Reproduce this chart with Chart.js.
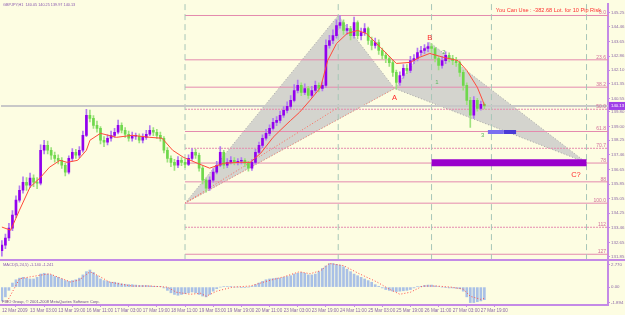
<!DOCTYPE html>
<html>
<head>
<meta charset="utf-8">
<script src="https://cdn.jsdelivr.net/npm/chart.js@4.4.0/dist/chart.umd.min.js"></script>
<style>
  html, body { margin: 0; padding: 0; background: #fdfde2; }
  canvas { display: block; }
</style>
</head>
<body>
<canvas id="chart" width="625" height="315"></canvas>
<script>
// GBPJPY H1 - one candle drawn for every 2 hourly bars (bar index = 2 * candle)
var opens = [132.20,132.50,132.89,133.43,134.15,134.97,135.51,135.95,135.79,136.17,
  135.95,135.90,137.70,137.97,137.70,137.43,137.26,137.15,136.88,136.50,
  137.26,137.59,137.43,137.70,138.52,139.62,139.45,139.07,138.90,138.25,
  138.14,138.36,138.52,138.69,139.07,138.80,138.58,138.36,138.47,138.47,
  138.25,138.41,138.58,138.80,138.69,138.52,138.36,137.70,137.26,137.04,
  136.88,137.15,137.04,136.93,137.26,137.59,137.43,136.72,136.06,135.62,
  136.06,136.50,136.88,137.59,136.88,137.04,137.15,137.04,137.10,137.15,
  136.99,136.72,137.04,137.59,137.97,138.36,138.63,138.90,139.23,139.34,
  139.62,139.89,140.11,140.44,140.98,141.26,140.87,141.09,140.71,140.98,
  141.26,141.09,141.26,143.45,143.72,143.99,144.54,144.70,144.27,144.37,
  143.99,144.70,143.99,144.16,144.37,143.72,143.45,143.61,143.17,142.90,
  142.73,142.51,141.97,141.42,141.80,142.19,142.08,142.62,142.73,143.06,
  143.17,143.28,143.39,143.28,142.73,142.35,142.62,142.90,142.73,142.62,
  142.51,141.97,141.26,140.44,139.62,140.44,140.00,140.22];
var highs = [132.75,133.10,133.70,134.40,135.20,135.75,136.25,136.20,136.45,136.35,
  136.20,138.00,138.25,138.20,137.85,137.60,137.45,137.30,137.00,137.40,
  137.80,137.75,137.90,138.75,139.95,139.90,139.60,139.30,139.00,138.45,
  138.55,138.75,138.90,139.35,139.20,138.95,138.75,138.70,138.65,138.60,
  138.60,138.80,139.05,138.95,138.85,138.70,138.45,137.85,137.40,137.20,
  137.35,137.30,137.20,137.45,137.80,137.75,137.55,136.85,136.15,136.25,
  136.70,137.10,137.90,137.70,137.25,137.35,137.30,137.25,137.30,137.25,
  137.10,137.20,137.75,138.15,138.55,138.85,139.10,139.45,139.55,139.85,
  140.10,140.35,140.70,141.30,141.55,141.40,141.35,141.20,141.20,141.50,
  141.40,141.45,143.75,144.00,144.30,144.85,145.09,144.85,144.60,144.50,
  145.00,144.80,144.40,144.65,144.45,143.90,143.85,143.75,143.30,143.05,
  142.85,142.65,142.10,142.00,142.40,142.40,142.85,142.95,143.30,143.40,
  143.50,143.61,143.55,143.35,142.85,142.85,143.10,143.05,142.90,142.80,
  142.60,142.10,141.40,140.60,140.65,140.55,140.40,140.30];
var lows = [131.90,132.30,132.75,133.30,134.00,134.85,135.35,135.50,135.65,135.70,
  135.60,135.80,137.50,137.50,137.20,137.05,136.95,136.70,136.30,136.40,
  137.10,137.25,137.30,137.60,138.45,139.25,138.90,138.70,138.05,137.90,
  138.00,138.20,138.40,138.60,138.65,138.40,138.20,138.20,138.30,138.10,
  138.10,138.30,138.50,138.50,138.35,138.20,137.55,137.05,136.80,136.60,
  136.75,136.85,136.75,136.85,137.15,137.25,136.55,135.85,135.40,135.50,
  135.95,136.40,136.80,136.70,136.75,136.95,136.90,136.90,136.95,136.80,
  136.55,136.60,136.95,137.50,137.85,138.25,138.50,138.80,139.05,139.20,
  139.50,139.75,140.00,140.35,140.85,140.70,140.75,140.55,140.60,140.85,
  140.90,140.95,141.15,143.30,143.55,143.85,144.40,144.05,144.05,143.75,
  143.85,143.80,143.75,144.00,143.50,143.20,143.30,142.95,142.70,142.50,
  142.30,141.75,141.05,141.25,141.65,141.90,141.95,142.45,142.60,142.90,
  143.00,143.10,143.05,142.55,142.10,142.20,142.45,142.55,142.40,142.30,
  141.75,141.00,140.20,138.96,139.45,139.85,139.90,139.97];
var closes = [132.50,132.89,133.43,134.15,134.97,135.51,135.95,135.79,136.17,135.95,
  135.90,137.70,137.97,137.70,137.43,137.26,137.15,136.88,136.50,137.26,
  137.59,137.43,137.70,138.52,139.62,139.45,139.07,138.90,138.25,138.14,
  138.36,138.52,138.69,139.07,138.80,138.58,138.36,138.47,138.47,138.25,
  138.41,138.58,138.80,138.69,138.52,138.36,137.70,137.26,137.04,136.88,
  137.15,137.04,136.93,137.26,137.59,137.43,136.72,136.06,135.62,136.06,
  136.50,136.88,137.59,136.88,137.04,137.15,137.04,137.10,137.15,136.99,
  136.72,137.04,137.59,137.97,138.36,138.63,138.90,139.23,139.34,139.62,
  139.89,140.11,140.44,140.98,141.26,140.87,141.09,140.71,140.98,141.26,
  141.09,141.26,143.45,143.72,143.99,144.54,144.70,144.27,144.37,143.99,
  144.70,143.99,144.16,144.37,143.72,143.45,143.61,143.17,142.90,142.73,
  142.51,141.97,141.42,141.80,142.19,142.08,142.62,142.73,143.06,143.17,
  143.28,143.39,143.28,142.73,142.35,142.62,142.90,142.73,142.62,142.51,
  141.97,141.26,140.44,139.62,140.44,140.00,140.22,140.13];

// moving average (red), read at a few bars
var maBars = [0,5,10,16,22,27,33,37,43,48,50,56,65,74,84,91,97,103,111,118,126,135,141,147,154,158,
  164,169,175,181,185,190,196,202,207,215,224,232,237,243,251,259,264,270,273,274];
var maValues = [133.49,133.32,134.42,135.68,136.22,136.77,137.15,137.04,137.15,137.70,138.25,138.63,
  138.41,138.52,138.41,138.36,137.70,137.32,136.99,136.72,136.99,137.04,137.04,137.54,138.41,138.79,
  139.34,139.78,140.44,141.15,142.62,143.55,144.10,144.27,144.10,143.34,142.46,142.52,142.79,143.01,
  142.79,142.62,142.08,141.15,140.44,140.16];

// MACD histogram, same candles as above
var macdHist = [-1.7,-1.2,-0.4,0.5,0.9,1.1,1.2,1.1,1.0,1.0,
  1.2,1.6,1.7,1.6,1.5,1.3,1.2,1.0,0.8,0.7,
  0.8,0.9,1.1,1.5,1.9,2.1,1.8,1.4,1.0,0.8,
  0.7,0.6,0.6,0.5,0.4,0.35,0.3,0.3,0.25,0.2,
  0.2,0.2,0.15,0.1,0.1,0.05,-0.1,-0.4,-0.7,-0.9,
  -1.0,-0.9,-0.8,-0.7,-0.6,-0.7,-0.9,-1.1,-1.2,-0.9,
  -0.5,-0.2,0.0,0.05,0.05,0.05,0.0,0.0,-0.05,-0.05,
  0.0,0.1,0.3,0.5,0.7,0.9,1.0,1.05,1.1,1.1,
  1.2,1.3,1.4,1.6,1.7,1.8,1.7,1.5,1.5,1.6,
  1.9,2.3,2.6,2.9,2.9,2.8,2.7,2.5,2.2,1.9,
  1.6,1.4,1.2,1.0,0.8,0.6,0.3,0.1,-0.1,-0.3,
  -0.4,-0.5,-0.55,-0.5,-0.45,-0.4,-0.3,-0.1,0.05,0.1,
  0.2,0.25,0.25,0.15,0.05,0.0,-0.05,-0.1,-0.1,-0.15,
  -0.2,-0.5,-1.2,-1.9,-1.9,-1.8,-1.7,-1.55];
var signalBars = [3,10,16,27,33,39,44,50,56,61,67,74,84,94,99,107,113,116,122,131,141,151,160,169,175,
  181,186,194,203,213,220,226,232,239,247,255,262,266,272,274];
var signalValues = [-1.76,1.01,1.26,1.64,1.13,0.63,0.88,1.89,1.26,0.63,0.38,0.13,0.13,0,-0.63,-0.88,
  -0.76,-1.13,-0.50,0,0.13,0.76,1.26,1.89,1.64,2.02,2.90,2.64,1.64,0.63,-0.25,-0.88,-0.63,0.13,0.13,
  0,-0.25,-1.13,-1.51,-1.39];

var tickBars = [0,16,32,48,64,80,96,112,128,144,160,176,192,208,224,240,256,272];
var timeLabels = ['12 Mar 2009','13 Mar 03:00','13 Mar 19:00','16 Mar 11:00','17 Mar 03:00','17 Mar 19:00',
  '18 Mar 11:00','19 Mar 03:00','19 Mar 19:00','20 Mar 11:00','23 Mar 03:00','23 Mar 19:00',
  '24 Mar 11:00','25 Mar 03:00','25 Mar 19:00','26 Mar 11:00','27 Mar 03:00','27 Mar 19:00'];
var priceTicks = [145.25,144.46,143.65,142.86,142.10,141.35,140.55,139.80,139.00,138.25,137.46,
  136.65,135.85,135.05,134.25,133.46,132.65,131.85];
var macdTicks = [2.770, 0, -1.894];
var macdTickLabels = ['2.770', '0.00', '-1.894'];

// fibonacci levels of the pattern
var fibNames = ['0.0','23.6','38.2','50.0','61.8','70.7','78','88','100.0','112','127'];
var fibPrices = [145.09,142.66,141.16,139.95,138.73,137.81,137.00,135.97,134.80,133.48,132.00];
var fibDotted = ['50.0','70.7','112'];
var fibStartBar = 104;
var zoneBars = [104, 191, 244, 278, 332];

// harmonic pattern points
var legOneBars = [104, 191, 223, 104];
var legOnePrices = [134.80, 145.09, 141.09, 134.80];
var legTwoBars = [223, 243, 332, 223];
var legTwoPrices = [141.09, 143.61, 137.02, 141.09];
var xbLineBars = [104, 191];
var xbLinePrices = [134.80, 140.05];
var targetZoneBars = [244, 332];
var targetZonePrice = 137.02;
var stopZoneBars = [276, 285, 292];
var stopZonePrice = 138.70;

var pointNames = ['A', 'B', 'C?', '1', '2', '3'];
var pointBars = [223, 243, 326, 247, 251, 273];
var pointPrices = [140.55, 143.88, 136.33, 141.42, 143.06, 138.52];

var lastPrice = 140.13;
var header = 'GBPJPY,H1  140.05 140.25 139.97 140.13';
var riskText = 'You Can Use : -382.68 Lot. for 10 Pip Risk';
var macdTitle = 'MACD(5,24,5) -1.140 -1.241';
var copyright = 'FIBO Group, \u00a9 2001-2008 MetaQuotes Software Corp.';

var FRAME = '#c48ae6';
var TICKTEXT = '#8c6aa8';
var FONT = "'Liberation Sans', Arial, sans-serif";
var X_MIN = -0.5, X_MAX = 344.2;

function candleX(i) { return i * 2; }

var upColor = '#9200ee', downColor = '#6fd84c';
var bodyColors = closes.map(function (c, i) { return c >= opens[i] ? upColor : downColor; });
var wickColors = closes.map(function (c, i) { return c >= opens[i] ? '#b27af0' : '#9ee27e'; });

var datasets = [];

// pattern triangles
datasets.push({
  type: 'line', order: 20,
  data: legOneBars.map(function (b, i) { return { x: b, y: legOnePrices[i] }; }),
  borderColor: 'rgba(160,160,160,0.9)', borderWidth: 1, borderDash: [1, 2],
  backgroundColor: 'rgba(195,195,198,0.72)', fill: 'shape'
});
datasets.push({
  type: 'line', order: 20,
  data: legTwoBars.map(function (b, i) { return { x: b, y: legTwoPrices[i] }; }),
  borderColor: 'rgba(160,160,160,0.9)', borderWidth: 1, borderDash: [1, 2],
  backgroundColor: 'rgba(195,195,198,0.72)', fill: 'shape'
});
datasets.push({
  type: 'line', order: 19,
  data: xbLineBars.map(function (b, i) { return { x: b, y: xbLinePrices[i] }; }),
  borderColor: '#ff6a5a', borderWidth: 1, borderDash: [1, 2]
});
datasets.push({
  type: 'line', order: 19,
  data: [{ x: legOneBars[0], y: legOnePrices[0] }, { x: legOneBars[2], y: legOnePrices[2] }],
  borderColor: '#ff8a7a', borderWidth: 1, borderDash: [1, 2]
});

// fibonacci levels
fibPrices.forEach(function (p, i) {
  datasets.push({
    type: 'line', order: 15,
    data: [{ x: fibStartBar, y: p }, { x: X_MAX, y: p }],
    borderColor: '#e48aae', borderWidth: 1,
    borderDash: fibDotted.indexOf(fibNames[i]) >= 0 ? [2, 1] : []
  });
});

// time zone lines
zoneBars.forEach(function (b) {
  datasets.push({
    type: 'line', order: 14,
    data: [{ x: b, y: 131.68 }, { x: b, y: 145.74 }],
    borderColor: '#a7c6b8', borderWidth: 1, borderDash: [6, 4]
  });
});

// bid line
datasets.push({
  type: 'line', order: 13,
  data: [{ x: X_MIN, y: lastPrice }, { x: X_MAX, y: lastPrice }],
  borderColor: '#c8c8c8', borderWidth: 2
});

// target and stop zones
datasets.push({
  type: 'line', order: 12,
  data: targetZoneBars.map(function (b) { return { x: b, y: targetZonePrice }; }),
  borderColor: '#9a00cc', borderWidth: 7, borderCapStyle: 'butt'
});
datasets.push({
  type: 'line', order: 12,
  data: [{ x: stopZoneBars[0], y: stopZonePrice }, { x: stopZoneBars[1], y: stopZonePrice }],
  borderColor: '#7a6ef0', borderWidth: 4, borderCapStyle: 'butt'
});
datasets.push({
  type: 'line', order: 12,
  data: [{ x: stopZoneBars[1], y: stopZonePrice }, { x: stopZoneBars[2], y: stopZonePrice }],
  borderColor: '#4a3ad6', borderWidth: 4, borderCapStyle: 'butt'
});

// candles
datasets.push({
  type: 'bar', order: 6, grouped: false, barThickness: 1,
  data: closes.map(function (c, i) { return { x: candleX(i), y: [lows[i], highs[i]] }; }),
  backgroundColor: wickColors
});
datasets.push({
  type: 'bar', order: 5, grouped: false, barThickness: 2, minBarLength: 1,
  data: closes.map(function (c, i) { return { x: candleX(i), y: [opens[i], c] }; }),
  backgroundColor: bodyColors
});

// moving average
datasets.push({
  type: 'line', order: 4,
  data: maBars.map(function (b, i) { return { x: b, y: maValues[i] }; }),
  borderColor: '#ff4a3a', borderWidth: 1
});

// MACD
datasets.push({
  type: 'bar', order: 6, grouped: false, barThickness: 2, yAxisID: 'y2',
  data: macdHist.map(function (v, i) { return { x: candleX(i), y: v }; }),
  backgroundColor: '#a9c0e6'
});
datasets.push({
  type: 'line', order: 4, yAxisID: 'y2',
  data: signalBars.map(function (b, i) { return { x: b, y: signalValues[i] }; }),
  borderColor: '#ff4a4a', borderWidth: 1, borderDash: [1, 2]
});

var overlay = {
  id: 'overlay',
  beforeDraw: function (chart) {
    var c = chart.ctx;
    c.save();
    c.fillStyle = '#fdfde2';
    c.fillRect(0, 0, chart.width, chart.height);
    c.restore();
  },
  afterDraw: function (chart) {
    var c = chart.ctx, a = chart.chartArea;
    var xs = chart.scales.x, ys = chart.scales.y, y2 = chart.scales.y2;
    c.save();
    // panel separator
    c.strokeStyle = FRAME; c.lineWidth = 2;
    c.beginPath(); c.moveTo(0, y2.top); c.lineTo(chart.width, y2.top); c.stroke();

    c.textBaseline = 'middle';
    // fib names
    c.font = '5px ' + FONT; c.fillStyle = '#d2709a'; c.textAlign = 'right';
    fibPrices.forEach(function (p, i) {
      c.fillText(fibNames[i], a.right - 2, ys.getPixelForValue(p) - 2.5);
    });
    // pattern letters
    pointNames.forEach(function (n, i) {
      var isNum = !isNaN(parseInt(n, 10));
      c.font = (isNum ? '6px ' : '7.5px ') + FONT;
      c.fillStyle = isNum ? '#5cb85c' : '#ff2a2a';
      c.textAlign = 'center';
      c.fillText(n, xs.getPixelForValue(pointBars[i]), ys.getPixelForValue(pointPrices[i]));
    });
    // header texts
    c.textAlign = 'left';
    c.font = '3.8px ' + FONT; c.fillStyle = '#8a5ab0';
    c.fillText(header, 3, 5);
    c.font = '4px ' + FONT; c.fillStyle = '#8a5ab0';
    c.fillText(macdTitle, 3, y2.top + 5);
    c.fillStyle = '#6a4a8a';
    c.fillText(copyright, 2, y2.bottom - 3);
    c.textAlign = 'right';
    c.font = '5.6px ' + FONT; c.fillStyle = '#ff3030';
    c.fillText(riskText, 601, 10);
    // last price box
    var py = ys.getPixelForValue(lastPrice);
    c.fillStyle = '#a040e8';
    c.fillRect(a.right + 1, py - 4, chart.width - a.right - 1, 8);
    c.fillStyle = '#ffffff'; c.textAlign = 'left'; c.font = '4.3px ' + FONT;
    c.fillText(lastPrice.toFixed(2), a.right + 3, py);
    c.restore();
  }
};

new Chart(document.getElementById('chart'), {
  type: 'bar',
  data: { datasets: datasets },
  plugins: [overlay],
  options: {
    responsive: false,
    animation: false,
    devicePixelRatio: 1,
    layout: { padding: { top: 3, left: 1, right: 0, bottom: 0 } },
    elements: { point: { radius: 0 }, line: { tension: 0 } },
    plugins: { legend: { display: false }, tooltip: { enabled: false } },
    scales: {
      x: {
        type: 'linear', min: X_MIN, max: X_MAX, offset: false,
        grid: { display: true, drawOnChartArea: false, tickLength: 2, color: FRAME },
        border: { display: true, color: FRAME, width: 2 },
        afterBuildTicks: function (s) { s.ticks = tickBars.map(function (b) { return { value: b }; }); },
        afterFit: function (s) { s.height = 10; },
        ticks: {
          autoSkip: false, maxRotation: 0, align: 'start', padding: 1, color: TICKTEXT,
          font: { size: 4.6, family: FONT },
          callback: function (v) { var k = tickBars.indexOf(v); return k >= 0 ? timeLabels[k] : ''; }
        }
      },
      y: {
        type: 'linear', position: 'right', stack: 'panes', stackWeight: 257,
        min: 131.68, max: 145.74,
        grid: { display: true, drawOnChartArea: false, tickLength: 2, color: FRAME },
        border: { display: true, color: FRAME, width: 2 },
        afterBuildTicks: function (s) { s.ticks = priceTicks.map(function (p) { return { value: p }; }); },
        afterFit: function (s) { s.width = 17; },
        ticks: {
          autoSkip: false, padding: 1, color: TICKTEXT, font: { size: 4.4, family: FONT },
          callback: function (v) { return v.toFixed(2); }
        }
      },
      y2: {
        type: 'linear', position: 'right', stack: 'panes', stackWeight: 45,
        min: -2.20, max: 3.32,
        grid: { display: true, drawOnChartArea: false, tickLength: 2, color: FRAME },
        border: { display: true, color: FRAME, width: 2 },
        afterBuildTicks: function (s) { s.ticks = macdTicks.map(function (p) { return { value: p }; }); },
        afterFit: function (s) { s.width = 17; },
        ticks: {
          autoSkip: false, padding: 1, color: TICKTEXT, font: { size: 4.4, family: FONT },
          callback: function (v) { var k = macdTicks.indexOf(v); return k >= 0 ? macdTickLabels[k] : ''; }
        }
      }
    }
  }
});
</script>
</body>
</html>
